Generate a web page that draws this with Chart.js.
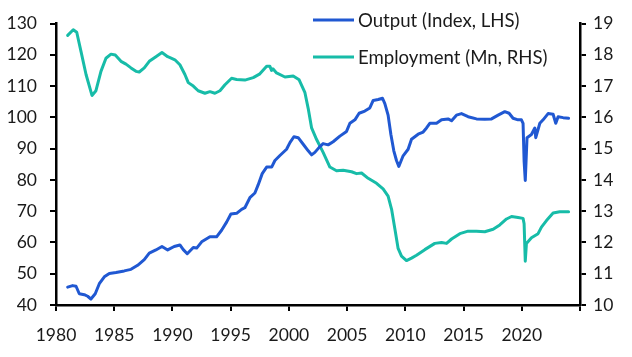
<!DOCTYPE html>
<html>
<head>
<meta charset="utf-8">
<script src="https://cdn.jsdelivr.net/npm/chart.js@4/dist/chart.umd.min.js"></script>
<style>
  html, body { margin: 0; padding: 0; background: #fff; }
  #wrap { width: 632px; height: 357px; }
</style>
</head>
<body>
<div id="wrap"><canvas id="c" width="632" height="357"></canvas></div>
<script>
// ---- Data ----
const outputYears = [1981.0,1981.43,1981.72,1982.0,1982.43,1982.72,1983.0,1983.37,1983.72,1984.15,1984.58,1985.15,1985.86,1986.44,1987.01,1987.58,1988.01,1988.58,1989.10,1989.59,1990.15,1990.64,1990.93,1991.27,1991.79,1992.08,1992.51,1993.22,1993.79,1994.22,1994.65,1995.02,1995.51,1995.94,1996.22,1996.65,1997.08,1997.36,1997.71,1998.09,1998.52,1998.80,1999.23,1999.80,2000.09,2000.43,2000.80,2001.23,2001.66,2001.95,2002.23,2002.60,2002.94,2003.37,2003.80,2004.38,2004.95,2005.24,2005.67,2006.03,2006.52,2006.95,2007.24,2007.67,2008.04,2008.24,2008.52,2008.76,2009.01,2009.24,2009.44,2009.81,2010.24,2010.53,2011.10,2011.53,2011.82,2012.10,2012.68,2013.11,2013.67,2013.97,2014.39,2014.82,2015.39,2016.11,2016.82,2017.40,2017.97,2018.54,2018.91,2019.25,2019.68,2019.97,2020.11,2020.2,2020.3,2020.45,2020.83,2021.12,2021.20,2021.55,2021.83,2022.26,2022.69,2022.92,2023.12,2023.55,2024.02];
const outputValues = [45.7,46.2,46.0,43.6,43.3,42.8,41.9,43.6,46.8,49.0,50.1,50.4,50.9,51.4,52.7,54.5,56.6,57.6,58.7,57.6,58.7,59.2,57.7,56.4,58.4,58.2,60.2,61.8,61.8,63.9,66.5,69.1,69.3,70.6,71.1,74.3,75.8,78.4,82.0,84.1,84.1,86.2,87.8,89.8,91.9,93.8,93.5,91.4,89.3,88.0,88.8,90.4,91.6,91.2,92.2,94.0,95.5,98.1,99.2,101.3,102.0,103.0,105.4,105.7,106.1,104.4,100.7,94.5,89.3,86.2,84.3,87.7,89.8,93.0,94.6,95.3,96.6,98.1,98.1,99.2,99.5,98.9,100.7,101.2,100.2,99.5,99.4,99.5,100.7,101.8,101.3,99.7,99.2,99.2,98.1,86.0,79.8,93.5,94.5,96.6,93.5,98.1,99.2,101.2,101.0,98.1,100.2,99.9,99.7];

const employmentYears = [1981.0,1981.48,1981.78,1982.15,1982.58,1983.09,1983.43,1983.86,1984.29,1984.72,1985.09,1985.58,1986.01,1986.44,1986.87,1987.15,1987.58,1988.01,1988.58,1989.10,1989.59,1989.79,1990.21,1990.64,1991.07,1991.36,1991.79,1992.21,1992.79,1993.22,1993.65,1994.08,1994.51,1995.08,1995.51,1996.22,1996.94,1997.51,1998.09,1998.37,1998.51,1998.63,1998.94,1999.66,2000.37,2000.88,2001.37,2001.66,2001.95,2002.38,2002.94,2003.52,2004.09,2004.66,2005.38,2005.81,2006.24,2006.81,2007.53,2008.09,2008.52,2008.82,2009.10,2009.38,2009.67,2010.10,2010.53,2010.96,2011.67,2012.53,2013.11,2013.54,2013.97,2014.68,2015.39,2016.11,2016.82,2017.54,2018.11,2018.69,2019.12,2019.68,2020.11,2020.2,2020.3,2020.4,2020.83,2021.40,2021.69,2022.12,2022.69,2023.26,2024.02];
const employmentValues = [18.62,18.80,18.72,18.10,17.37,16.70,16.85,17.47,17.89,18.02,17.99,17.79,17.70,17.58,17.47,17.45,17.58,17.79,17.94,18.07,17.94,17.91,17.84,17.68,17.37,17.11,17.00,16.85,16.77,16.82,16.77,16.85,17.04,17.25,17.21,17.19,17.27,17.39,17.63,17.63,17.50,17.55,17.42,17.29,17.32,17.20,16.80,16.28,15.66,15.29,14.88,14.41,14.29,14.31,14.26,14.20,14.22,14.05,13.89,13.71,13.48,13.06,12.44,11.81,11.56,11.42,11.50,11.59,11.77,11.97,12.00,11.97,12.11,12.28,12.36,12.36,12.34,12.42,12.56,12.75,12.83,12.80,12.77,12.60,11.40,11.97,12.15,12.28,12.49,12.70,12.94,12.98,12.98];

const xTickLabels = [1980,1985,1990,1995,2000,2005,2010,2015,2020];
const seriesLabels = ['Output (Index, LHS)', 'Employment (Mn, RHS)'];
const seriesColors = ['#2058D2', '#17BCA8'];

const toPoints = (xs, ys) => xs.map((x, i) => ({ x: x, y: ys[i] }));

const FONT = 'Lato, "Open Sans", sans-serif';
const TXT = '#1a1a1a';

const legendPlugin = {
  id: 'customLegend',
  afterDraw(chart) {
    const ctx = chart.ctx;
    ctx.save();
    ctx.font = '18.6px ' + FONT;
    ctx.textBaseline = 'middle';
    ctx.textAlign = 'left';
    const rows = [20, 57];
    chart.data.datasets.forEach((ds, i) => {
      const y = rows[i];
      ctx.strokeStyle = ds.borderColor;
      ctx.lineWidth = 3;
      ctx.beginPath();
      ctx.moveTo(313, y);
      ctx.lineTo(354, y);
      ctx.stroke();
      ctx.fillStyle = TXT;
      ctx.fillText(ds.label, 358, y + 1);
    });
    ctx.restore();
  }
};

const axisCommon = {
  border: { display: true, color: '#000', width: 2.5 },
  grid: { display: true, drawOnChartArea: false, drawTicks: true, tickLength: 6, color: '#000', lineWidth: 2 },
};

new Chart(document.getElementById('c'), {
  type: 'line',
  data: {
    datasets: [
      {
        label: seriesLabels[0],
        data: toPoints(outputYears, outputValues),
        yAxisID: 'y',
        borderColor: seriesColors[0],
        backgroundColor: seriesColors[0],
        borderWidth: 3,
        pointRadius: 0,
        tension: 0,
        borderJoinStyle: 'round',
        borderCapStyle: 'round'
      },
      {
        label: seriesLabels[1],
        data: toPoints(employmentYears, employmentValues),
        yAxisID: 'y1',
        borderColor: seriesColors[1],
        backgroundColor: seriesColors[1],
        borderWidth: 3,
        pointRadius: 0,
        tension: 0,
        borderJoinStyle: 'round',
        borderCapStyle: 'round'
      }
    ]
  },
  options: {
    responsive: false,
    animation: false,
    layout: { padding: { top: 16, left: 0, right: 0, bottom: 0 } },
    plugins: { legend: { display: false }, tooltip: { enabled: false } },
    scales: {
      x: Object.assign({}, axisCommon, {
        type: 'linear',
        min: 1980,
        max: 2025,
        afterBuildTicks(scale) {
          scale.ticks = xTickLabels.concat([2025]).map(v => ({ value: v }));
        },
        ticks: {
          autoSkip: false, maxRotation: 0, padding: 14,
          font: { family: FONT, size: 17.5 }, color: TXT,
          callback: (v) => xTickLabels.includes(v) ? String(v) : ''
        },
        afterFit(scale) { scale.height = 52; }
      }),
      y: Object.assign({}, axisCommon, {
        position: 'left',
        min: 40, max: 130,
        ticks: { stepSize: 10, padding: 13, font: { family: FONT, size: 17.5 }, color: TXT },
        afterFit(scale) { scale.width = 56; }
      }),
      y1: Object.assign({}, axisCommon, {
        position: 'right',
        min: 10, max: 19,
        ticks: { stepSize: 1, padding: 7, font: { family: FONT, size: 17.5 }, color: TXT },
        afterFit(scale) { scale.width = 52; }
      })
    }
  },
  plugins: [legendPlugin]
});
</script>
</body>
</html>
